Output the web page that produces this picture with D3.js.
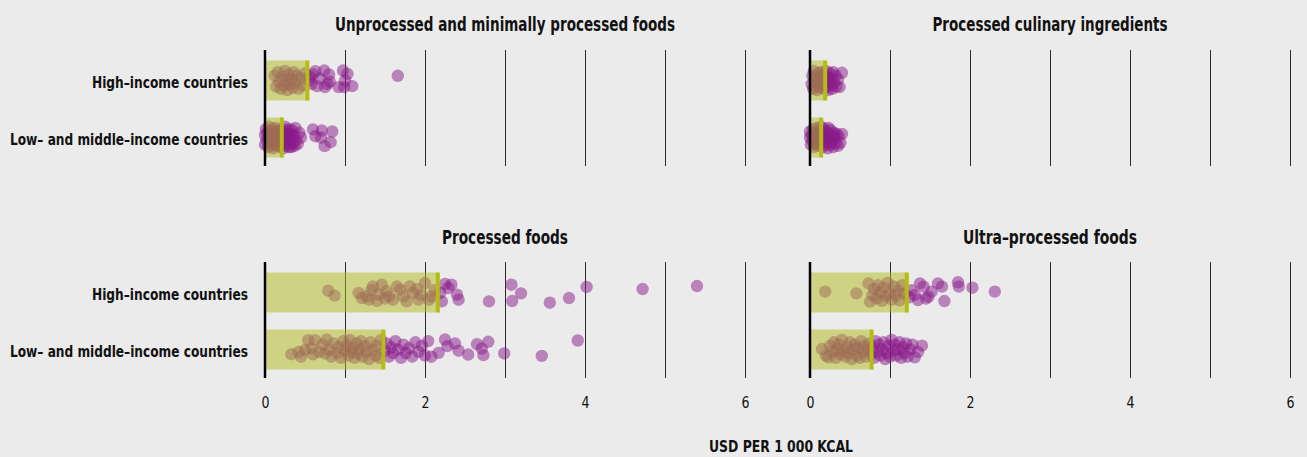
<!DOCTYPE html>
<html>
<head>
<meta charset="utf-8">
<script src="https://cdn.jsdelivr.net/npm/d3@7"></script>
<style>
  html, body { margin: 0; padding: 0; background: #ebebeb; }
  svg { display: block; }
  text { font-family: 'Liberation Sans Narrow', 'DejaVu Sans Condensed', 'Arial Narrow', sans-serif; fill: #111; }
</style>
</head>
<body>
<svg id="chart" width="1307" height="457"></svg>
<script>
// ---------------- DATA ----------------
const panelTitles = ["Unprocessed and minimally processed foods", "Processed culinary ingredients", "Processed foods", "Ultra–processed foods"];
const groups = ["High–income countries", "Low– and middle–income countries"];
const axisTicks = [0, 2, 4, 6];
const gridTicks = [1, 2, 3, 4, 5, 6];
const axisTitle = "USD PER 1 000 KCAL";

// bar (average) values per panel: [high-income, low/middle-income]
const unprocessedBars = [0.53, 0.21];
const culinaryBars = [0.19, 0.14];
const processedBars = [2.16, 1.48];
const ultraBars = [1.21, 0.77];

// country points: [USD per 1000 kcal, jitter (-1..1)]
const unprocessedHigh = [[0.12,-0.4],[0.14,0.5],[0.16,-0.7],[0.18,0.1],[0.2,0.7],[0.22,-0.3],[0.24,0.4],[0.25,-0.8],[0.27,0.0],[0.28,0.8],[0.3,-0.5],[0.31,0.3],[0.33,-0.1],[0.35,0.6],[0.36,-0.7],[0.38,0.2],[0.4,-0.4],[0.42,0.7],[0.45,-0.2],[0.48,0.4],[0.5,-0.6],
  [0.55,0.0],[0.56,-0.3],[0.58,0.28],[0.6,-0.5],[0.63,-0.78],[0.65,0.47],[0.68,-0.17],[0.74,-0.83],[0.75,0.55],[0.78,0.28],[0.8,-0.5],[0.81,0.1],[0.92,0.55],[0.975,-0.83],[0.99,0.55],[1.0,0.0],[1.03,-0.55],[1.09,0.47],[1.66,-0.39]];
const unprocessedLow = [[0.0,-0.2],[0.0,0.6],[0.01,-0.7],[0.02,0.2],[0.03,-0.4],[0.04,0.8],[0.05,0.0],[0.05,-0.9],[0.06,0.4],[0.07,-0.5],[0.08,0.7],[0.08,-0.1],[0.09,0.3],[0.1,-0.7],[0.1,0.9],[0.11,0.1],[0.12,-0.3],[0.12,0.5],[0.13,-0.8],[0.14,0.2],[0.15,-0.5],[0.15,0.7],[0.16,0.0],[0.17,-0.2],[0.17,0.4],[0.18,-0.6],[0.19,0.8],[0.2,0.1],[0.2,-0.4],[0.21,0.5],
  [0.22,-0.7],[0.22,0.2],[0.23,0.9],[0.24,-0.3],[0.25,0.5],[0.25,-0.9],[0.26,0.0],[0.27,0.7],[0.28,-0.5],[0.28,0.3],[0.29,-0.1],[0.3,0.8],[0.3,-0.7],[0.31,0.4],[0.32,-0.3],[0.33,0.8],[0.33,0.1],[0.34,-0.6],[0.35,0.5],[0.36,-0.2],[0.37,0.7],[0.38,-0.8],[0.39,0.2],[0.41,0.53],[0.43,-0.39],[0.45,0.0],
  [0.6,-0.67],[0.63,-0.11],[0.7,0.0],[0.71,-0.58],[0.745,0.72],[0.82,0.39],[0.84,-0.5]];
const culinaryHigh = [[0.02,0.3],[0.03,-0.4],[0.04,0.7],[0.05,-0.8],[0.06,0.0],[0.07,0.5],[0.08,-0.3],[0.09,0.8],[0.1,-0.6],[0.11,0.2],[0.12,-0.1],[0.13,0.6],[0.14,-0.7],[0.15,0.3],[0.16,-0.4],[0.17,0.0],[0.18,0.7],[0.18,-0.5],
  [0.2,0.1],[0.2,-0.8],[0.21,0.5],[0.22,-0.3],[0.23,0.8],[0.24,0.0],[0.25,-0.6],[0.26,0.4],[0.27,-0.2],[0.28,0.7],[0.29,-0.7],[0.3,0.2],[0.32,-0.4],[0.33,0.5],[0.35,-0.1],[0.37,0.55],[0.4,-0.64]];
const culinaryLow = [[0.0,0.0],[0.0,-0.5],[0.01,0.6],[0.02,-0.2],[0.03,0.3],[0.04,-0.7],[0.05,0.8],[0.05,0.1],[0.06,-0.4],[0.07,0.5],[0.08,-0.1],[0.08,-0.8],[0.09,0.3],[0.1,0.7],[0.1,-0.3],[0.11,0.0],[0.12,-0.6],[0.12,0.5],[0.13,0.2],[0.14,-0.9],
  [0.15,0.1],[0.15,-0.4],[0.16,0.8],[0.17,-0.2],[0.17,0.4],[0.18,-0.7],[0.19,0.0],[0.19,0.6],[0.2,-0.5],[0.21,0.3],[0.21,-0.1],[0.22,0.9],[0.23,-0.8],[0.23,0.2],[0.24,-0.3],[0.25,0.6],[0.25,0.0],[0.26,-0.6],[0.27,0.4],[0.28,-0.2],[0.29,0.8],[0.3,-0.4],[0.31,0.1],[0.32,0.5],[0.33,-0.3],[0.35,0.7],[0.36,-0.1],[0.38,0.44],[0.4,-0.3]];
const processedHigh = [[0.79,-0.15],[0.87,0.26],[1.17,0.04],[1.21,0.46],[1.27,0.32],[1.3,0.6],[1.33,-0.2],[1.35,-0.51],[1.4,0.7],[1.42,0.18],[1.46,-0.65],[1.5,0.5],[1.52,-0.1],[1.55,0.3],[1.6,0.6],[1.65,-0.51],[1.69,-0.24],[1.73,0.32],[1.77,0.74],[1.81,-0.51],[1.85,0.04],[1.9,-0.3],[1.92,0.6],[1.95,0.2],[2.0,-0.79],[2.05,0.6],[2.08,0.32],[2.12,-0.2],
  [2.19,0.04],[2.21,0.74],[2.25,-0.71],[2.29,-0.375],[2.33,-0.65],[2.4,0.18],[2.42,0.6],[2.8,0.74],[3.08,-0.65],[3.09,0.71],[3.2,0.07],[3.56,0.85],[3.8,0.46],[4.02,-0.46],[4.72,-0.29],[5.4,-0.54]];
const processedLow = [[0.33,0.39],[0.42,0.2],[0.45,0.6],[0.5,0.05],[0.54,-0.78],[0.58,-0.1],[0.6,0.4],[0.625,-0.78],[0.68,0.2],[0.72,-0.4],[0.75,0.33],[0.77,-0.83],[0.8,0.0],[0.83,0.6],[0.86,-0.5],[0.9,0.3],[0.92,-0.2],[0.95,0.7],[0.98,-0.7],[1.0,0.1],[1.02,-0.3],[1.04,0.5],[1.06,-0.8],[1.08,0.2],[1.1,-0.1],[1.12,0.7],[1.14,-0.5],[1.16,0.35],[1.18,0.0],[1.2,-0.7],[1.22,0.6],[1.25,-0.3],[1.27,0.2],[1.3,0.8],[1.32,-0.6],[1.35,0.0],[1.38,0.5],[1.4,-0.3],[1.43,0.7],[1.45,-0.8],
  [1.5,0.1],[1.52,-0.5],[1.55,0.6],[1.58,-0.2],[1.6,0.3],[1.63,-0.7],[1.66,0.0],[1.7,0.7],[1.73,-0.4],[1.76,0.3],[1.8,-0.1],[1.84,0.6],[1.88,-0.6],[1.92,0.2],[1.96,-0.3],[2.0,0.5],[2.04,-0.7],[2.08,0.6],
  [2.17,0.28],[2.25,-0.83],[2.28,-0.28],[2.375,-0.5],[2.42,0.1],[2.54,0.42],[2.65,-0.44],[2.71,-0.08],[2.73,0.47],[2.79,-0.64],[2.99,0.33],[3.46,0.53],[3.91,-0.75]];
const ultraHigh = [[0.19,-0.07],[0.58,0.07],[0.73,-0.76],[0.75,0.76],[0.78,0.2],[0.8,-0.3],[0.83,0.5],[0.85,-0.6],[0.88,0.0],[0.9,0.7],[0.92,-0.4],[0.95,0.3],[0.97,-0.8],[1.0,0.1],[1.02,0.6],[1.05,-0.5],[1.07,0.25],[1.1,-0.15],[1.12,0.65],[1.15,-0.6],[1.18,0.1],
  [1.24,0.4],[1.27,-0.2],[1.31,0.2],[1.35,0.63],[1.375,-0.76],[1.42,-0.49],[1.45,0.5],[1.48,0.35],[1.52,-0.07],[1.6,-0.76],[1.65,-0.49],[1.68,0.71],[1.85,-0.85],[1.86,-0.49],[2.03,-0.4],[2.31,-0.07]];
const ultraLow = [[0.15,-0.04],[0.2,0.5],[0.23,0.65],[0.25,-0.3],[0.28,0.2],[0.3,-0.6],[0.32,0.7],[0.34,0.0],[0.36,-0.4],[0.38,0.4],[0.4,-0.8],[0.42,0.1],[0.44,0.6],[0.46,-0.2],[0.48,0.3],[0.5,-0.6],[0.52,0.8],[0.54,0.0],[0.56,-0.4],[0.58,0.5],[0.6,-0.1],[0.62,0.7],[0.64,-0.7],[0.66,0.2],[0.68,-0.3],[0.7,0.6],[0.72,0.0],[0.74,-0.5],[0.76,0.4],
  [0.78,-0.2],[0.8,0.7],[0.82,-0.7],[0.84,0.2],[0.86,-0.4],[0.88,0.5],[0.9,0.0],[0.92,-0.6],[0.94,0.8],[0.96,0.3],[0.98,-0.3],[1.0,0.6],[1.02,-0.8],[1.04,0.1],[1.06,-0.4],[1.08,0.5],[1.1,0.0],[1.12,-0.6],[1.14,0.7],[1.16,-0.2],[1.18,0.3],[1.2,-0.5],[1.22,0.6],[1.25,0.0],[1.28,-0.4],[1.31,0.65],[1.35,0.2],[1.4,-0.32]];

// ---------------- LAYOUT ----------------
const panels = [
  { title: panelTitles[0], bars: unprocessedBars, pts: [unprocessedHigh, unprocessedLow], col: 0, row: 0, labels: true },
  { title: panelTitles[1], bars: culinaryBars,    pts: [culinaryHigh, culinaryLow],       col: 1, row: 0, labels: false },
  { title: panelTitles[2], bars: processedBars,   pts: [processedHigh, processedLow],     col: 0, row: 1, labels: true },
  { title: panelTitles[3], bars: ultraBars,       pts: [ultraHigh, ultraLow],             col: 1, row: 1, labels: false }
];
const cols = [[265, 745], [810, 1290]];
const rows = [[52, 166], [264, 378]];
const titleY = [24, 237];
const titleWidths = { [panelTitles[0]]: 340, [panelTitles[1]]: 235, [panelTitles[2]]: 126, [panelTitles[3]]: 174 };
const labelWidths = [156, 238];
const barH = 40, jitterPx = 12, dotR = 6.2;
const barColor = "#b2bc1e", purple = "#8a1a8a";

const svg = d3.select("#chart");
svg.append("rect").attr("width", 1307).attr("height", 457).attr("fill", "#ebebeb");

panels.forEach(p => {
  const x = d3.scaleLinear().domain([0, 6]).range(cols[p.col]);
  const y = d3.scalePoint().domain(groups).range(rows[p.row]).padding(0.5);
  const g = svg.append("g");
  const [y0, y1] = rows[p.row];

  // grid lines
  g.selectAll("line.grid").data(gridTicks).join("line")
    .attr("x1", d => Math.round(x(d)) + 0.5).attr("x2", d => Math.round(x(d)) + 0.5)
    .attr("y1", y0 - 2).attr("y2", y1)
    .attr("stroke", "#2a2a2a").attr("stroke-width", 1);

  // points
  groups.forEach((grp, gi) => {
    g.append("g").selectAll("circle").data(p.pts[gi]).join("circle")
      .attr("cx", d => x(d[0]))
      .attr("cy", d => y(grp) + d[1] * jitterPx)
      .attr("r", dotR)
      .attr("fill", purple).attr("fill-opacity", 0.5);
  });

  // bars (semi-transparent, over points)
  g.selectAll("rect.bar").data(groups).join("rect")
    .attr("x", x(0) + 1).attr("y", d => y(d) - barH / 2)
    .attr("width", (d, i) => x(p.bars[i]) - x(0) - 1)
    .attr("height", barH)
    .attr("fill", barColor).attr("fill-opacity", 0.5);
  // end markers
  g.selectAll("line.mark").data(groups).join("line")
    .attr("x1", (d, i) => x(p.bars[i])).attr("x2", (d, i) => x(p.bars[i]))
    .attr("y1", d => y(d) - barH / 2).attr("y2", d => y(d) + barH / 2)
    .attr("stroke", "#b3bd12").attr("stroke-width", 4);

  // zero line
  g.append("line").attr("x1", x(0)).attr("x2", x(0)).attr("y1", y0 - 2).attr("y2", y1)
    .attr("stroke", "#000").attr("stroke-width", 2.5);

  // title
  g.append("text").attr("x", (cols[p.col][0] + cols[p.col][1]) / 2).attr("y", titleY[p.row])
    .attr("text-anchor", "middle").attr("dominant-baseline", "central")
    .attr("font-size", 19).attr("font-weight", "bold")
    .attr("textLength", titleWidths[p.title]).attr("lengthAdjust", "spacingAndGlyphs")
    .text(p.title);

  // row labels
  if (p.labels) {
    g.selectAll("text.lab").data(groups).join("text")
      .attr("x", 248).attr("y", d => y(d) + 2)
      .attr("text-anchor", "end").attr("dominant-baseline", "central")
      .attr("font-size", 16).attr("font-weight", "bold")
      .attr("textLength", (d, i) => labelWidths[i]).attr("lengthAdjust", "spacingAndGlyphs")
      .text(d => d);
  }

  // x axis tick labels (bottom row only)
  if (p.row === 1) {
    const ax = svg.append("g").attr("transform", "translate(0,397)")
      .call(d3.axisBottom(x).tickValues(axisTicks).tickSize(0).tickPadding(0).tickFormat(d3.format("d")));
    ax.select(".domain").remove();
    ax.selectAll("text").attr("font-size", 16).attr("fill", "#111")
      .attr("transform", "scale(0.8,1)").attr("x", 0)
      .style("font-family", "'Liberation Sans Narrow', 'DejaVu Sans Condensed', sans-serif");
    ax.selectAll(".tick text").attr("transform", null).attr("textLength", 8).attr("lengthAdjust", "spacingAndGlyphs");
  }
});

svg.append("text").attr("x", 781).attr("y", 446).attr("text-anchor", "middle")
  .attr("dominant-baseline", "central").attr("font-size", 16).attr("font-weight", "bold")
  .attr("textLength", 144).attr("lengthAdjust", "spacingAndGlyphs")
  .text(axisTitle);
</script>
</body>
</html>
